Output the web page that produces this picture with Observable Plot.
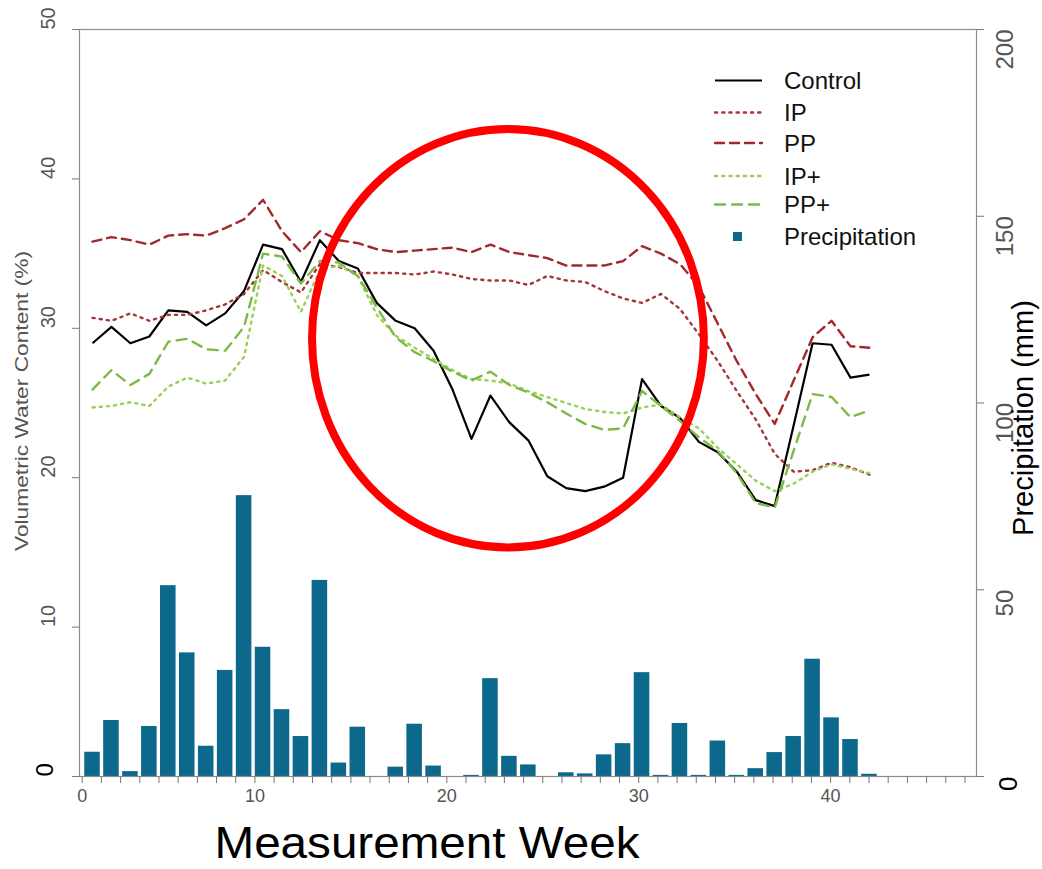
<!DOCTYPE html>
<html><head><meta charset="utf-8">
<script src="https://cdn.jsdelivr.net/npm/d3@7"></script>
<script src="https://cdn.jsdelivr.net/npm/@observablehq/plot@0.6"></script>
<style>
body{margin:0;background:#fff}
#wrap{position:relative;width:1042px;height:869px;font-family:"Liberation Sans",Arial,sans-serif}
#wrap svg{position:absolute;left:0;top:0}
</style>
</head><body><div id="wrap"></div>
<script>
// ---- data ----
const weeks = [1,2,3,4,5,6,7,8,9,10,11,12,13,14,15,16,17,18,19,20,21,22,23,24,25,26,27,28,29,30,31,32,33,34,35,36,37,38,39,40,41,42];
const control = [29.0,30.1,29.0,29.45,31.2,31.1,30.2,31.0,32.5,35.6,35.3,33.1,35.9,34.5,34.0,31.7,30.5,30.0,28.5,25.9,22.6,25.5,23.7,22.5,20.1,19.3,19.1,19.4,20.0,26.6,24.8,24.0,22.4,21.7,20.4,18.5,18.1,23.5,29.0,28.9,26.7,26.9];
const ip = [30.7,30.5,31.0,30.5,30.9,30.9,31.2,31.6,32.3,33.9,33.1,32.4,34.3,34.1,33.7,33.7,33.7,33.6,33.8,33.6,33.3,33.2,33.2,32.9,33.5,33.2,33.1,32.5,32.0,31.7,32.3,31.3,29.6,27.8,25.8,23.9,21.6,20.4,20.5,21.0,20.7,20.2];
const pp = [35.8,36.1,35.9,35.6,36.2,36.3,36.2,36.7,37.3,38.6,36.5,35.1,36.5,35.9,35.7,35.3,35.1,35.2,35.3,35.4,35.1,35.6,35.1,34.9,34.7,34.2,34.2,34.2,34.5,35.5,35.0,34.3,32.8,30.3,27.8,25.6,23.6,26.5,29.4,30.5,28.8,28.7];
const ipPlus = [24.7,24.8,25.05,24.8,26.1,26.7,26.3,26.5,28.1,34.2,33.5,31.1,33.9,34.2,33.5,30.9,29.5,28.7,27.95,27.2,26.6,26.5,26.3,25.8,25.4,25.0,24.6,24.4,24.3,24.7,24.9,24.05,23.3,22.0,20.9,19.8,19.1,19.6,20.4,20.9,20.6,20.3];
const ppPlus = [25.9,27.2,26.2,26.95,29.1,29.3,28.6,28.5,30.1,35.0,34.8,33.0,34.5,34.4,33.5,31.4,29.4,28.4,27.8,27.1,26.5,27.1,26.2,25.7,25.05,24.3,23.6,23.2,23.3,25.8,24.8,23.8,22.7,21.8,20.3,18.3,18.0,21.8,25.6,25.4,24.05,24.5];
const precipMm = [6.5,15.0,1.3,13.4,51.1,33.1,8.1,28.4,75.2,34.6,17.9,10.7,52.5,3.6,13.2,0,2.5,14.0,2.8,0,0.3,26.2,5.4,3.1,0,1.0,0.7,5.8,8.8,27.8,0.3,14.2,0.3,9.5,0.3,2.1,6.4,10.7,31.4,15.7,9.9,0.6];

const seriesNames = ["Control","IP","PP","IP+","PP+"];
const seriesValues = [control, ip, pp, ipPlus, ppPlus];
const seriesColors = ["#000000","#a5363b","#a3282d","#9ccf55","#7cbb43"];
const seriesDash = [null,"2.2,5","9,6","2.2,5","10,7"];
const barColor = "#0d698b";

const leftTicks = [10,20,30,40,50];
const rightTicksMm = [50,100,150,200];
const xTickLabels = ["0","10","20","30","40"];
const xTickLabelIndex = [0,9,19,29,39];   // which minor tick carries each label
const xMinorTickCount = 47;

// ---- geometry (axis layout, in week units) ----
const xDomain = [0.314, 47.65];
const xTickStart = 0.4565, xTickStep = 1.0127;
const xTicks = d3.range(xMinorTickCount).map(n => xTickStart + n * xTickStep);
const xLabelPos = xTickLabelIndex.map(n => xTickStart + n * xTickStep);
const focus = {week: 22.95, vwc: 29.3, rWeeks: 10.34, rVwc: 14.0};

const lineData = seriesNames.flatMap((s, k) => weeks.map((w, i) => ({series: s, week: w, v: seriesValues[k][i]})));
const barData = weeks.map((w, i) => ({week: w, mm: precipMm[i]}));

const FONT = '"Liberation Sans", Arial, sans-serif';

const plot = Plot.plot({
  width: 1042, height: 869,
  marginTop: 29, marginBottom: 93, marginLeft: 79, marginRight: 66,
  style: {fontFamily: FONT, background: "white", overflow: "visible"},
  x: {domain: xDomain},
  y: {domain: [0, 50]},
  marks: [
    Plot.rectY(barData, {x1: d => d.week - 0.41, x2: d => d.week + 0.41, y1: 0, y2: d => d.mm / 4, fill: barColor}),
    ...seriesNames.map((s, k) => Plot.line(lineData.filter(d => d.series === s), {
      x: "week", y: "v", stroke: seriesColors[k], strokeWidth: k === 0 ? 2.2 : 2.4,
      strokeDasharray: seriesDash[k] ?? undefined, strokeLinecap: k === 0 ? "butt" : "round", strokeLinejoin: "round"
    })),
    Plot.frame({stroke: "#8c8c8c", strokeWidth: 1.2}),
    Plot.axisX({ticks: xTicks, tickSize: 7, tickFormat: () => "", stroke: "#777", label: null}),
    Plot.axisY({ticks: [0, ...leftTicks], tickSize: 7, tickFormat: () => "", stroke: "#777", label: null}),
    Plot.axisY({anchor: "right", ticks: [0, ...rightTicksMm].map(d => d / 4), tickSize: 7, tickFormat: () => "", stroke: "#777", label: null}),
    Plot.text(xLabelPos.map((p, i) => ({p, t: xTickLabels[i]})), {x: "p", text: "t", frameAnchor: "bottom", dy: 25, fontSize: 18, fill: "#555"}),
    Plot.text(leftTicks, {y: d => d, text: d => String(d), frameAnchor: "left", dx: -31, rotate: -90, fontSize: 20, fill: "#555"}),
    Plot.text([0], {y: d => d, text: d => String(d), frameAnchor: "left", dx: -34, rotate: -90, fontSize: 24, fill: "#000"}),
    Plot.text(rightTicksMm, {y: d => d / 4, text: d => String(d), frameAnchor: "right", dx: 29, rotate: -90, fontSize: 24, fill: "#555"}),
    Plot.text([0], {y: d => d / 4, text: d => String(d), frameAnchor: "right", dx: 32, rotate: -90, fontSize: 26, fill: "#000"})
  ]
});

const wrap = document.getElementById("wrap");
wrap.appendChild(plot);

// ---- overlay: titles, legend, annotation ellipse ----
const xs = plot.scale("x"), ys = plot.scale("y");
const NS = "http://www.w3.org/2000/svg";
const ov = d3.select(wrap).append("svg").attr("xmlns", NS).attr("width", 1042).attr("height", 869)
  .style("font-family", FONT);

ov.append("text").attr("transform", "translate(22,401) rotate(-90)").attr("text-anchor", "middle")
  .attr("dy", "0.35em").attr("font-size", 18).attr("fill", "#555")
  .attr("textLength", 300).attr("lengthAdjust", "spacingAndGlyphs").text("Volumetric Water Content (%)");
ov.append("text").attr("transform", "translate(1023,418) rotate(-90)").attr("text-anchor", "middle")
  .attr("dy", "0.35em").attr("font-size", 29).attr("fill", "#000")
  .attr("textLength", 236).attr("lengthAdjust", "spacingAndGlyphs").text("Precipitation (mm)");
ov.append("text").attr("x", 427).attr("y", 858).attr("text-anchor", "middle")
  .attr("font-size", 44).attr("fill", "#000")
  .attr("textLength", 425).attr("lengthAdjust", "spacingAndGlyphs").text("Measurement Week");

const legendRows = [80.5, 112.5, 143, 176, 204.5, 236.5];
const legendNames = [...seriesNames, "Precipitation"];
legendNames.forEach((name, i) => {
  const y = legendRows[i];
  if (i < seriesNames.length) {
    ov.append("line").attr("x1", 715).attr("x2", 762).attr("y1", y).attr("y2", y)
      .attr("stroke", seriesColors[i]).attr("stroke-width", i === 0 ? 2.2 : 2.4)
      .attr("stroke-dasharray", seriesDash[i] ?? null).attr("stroke-linecap", i === 0 ? "butt" : "round");
  } else {
    ov.append("rect").attr("x", 733).attr("y", y - 4.5).attr("width", 9).attr("height", 9).attr("fill", barColor);
  }
  ov.append("text").attr("x", 784).attr("y", y).attr("dy", "0.36em").attr("font-size", 24).attr("fill", "#111").text(name);
});

const cx = xs.apply(focus.week), cy = ys.apply(focus.vwc);
const rx = Math.abs(xs.apply(focus.week + focus.rWeeks) - cx);
const ry = Math.abs(ys.apply(focus.vwc + focus.rVwc) - cy);
ov.append("ellipse").attr("cx", cx).attr("cy", cy).attr("rx", rx).attr("ry", ry)
  .attr("fill", "none").attr("stroke", "#ff0000").attr("stroke-width", 8);
</script>
</body></html>
